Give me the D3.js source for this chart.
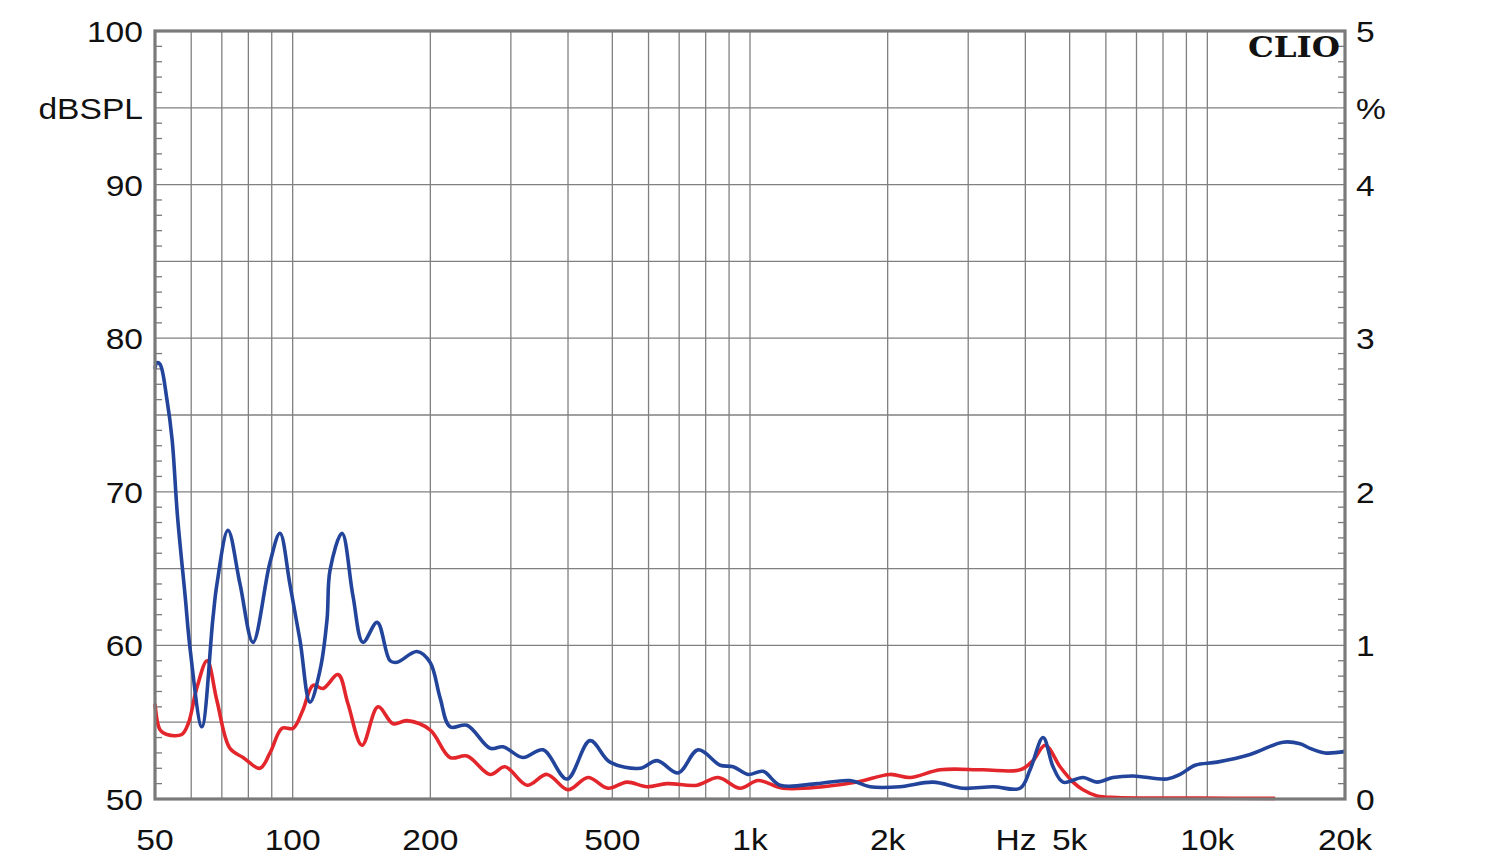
<!DOCTYPE html>
<html><head><meta charset="utf-8">
<script src="https://cdn.jsdelivr.net/npm/d3@7"></script>
<style>html,body{margin:0;padding:0;background:#fff;}svg{display:block;}</style>
</head><body>
<svg id="chart" width="1500" height="864"></svg>
<script>
// ---- data ----
const blueFreq = [50,50.5,51.3,53.1,54.5,56.0,58.2,59.7,63.3,66.9,68.3,72.2,76.7,81.9,89.2,93.8,98.6,103.8,109.1,114.8,118.9,120.7,128.2,135.5,142.5,153,163.3,169.1,187,199.7,210,220.9,240.6,270.2,288.4,318.9,352.7,398,446.9,494.2,574.9,626.4,696.5,770,860.3,918.4,990.5,1068,1163,1402,1655,1830,2128,2513,2924,3400,3896,4096,4374,4599,4836,5348,5739,6220,6880,8165,8718,9403,10500,12400,14640,15950,16770,18090,20000];
const blueDb = [78.0,78.4,78.3,76.0,73.4,68.4,63.2,59.7,54.7,61.7,64.0,67.5,64.0,60.2,65.4,67.3,64.0,60.3,56.3,58.4,61.7,64.9,67.3,63.2,60.2,61.5,59.0,58.9,59.6,58.9,56.6,54.7,54.8,53.3,53.4,52.7,53.2,51.3,53.8,52.4,52.0,52.5,51.7,53.2,52.2,52.1,51.6,51.8,50.9,51.0,51.2,50.8,50.8,51.1,50.7,50.8,50.7,51.9,54.0,52.1,51.1,51.4,51.1,51.4,51.5,51.3,51.6,52.2,52.4,52.9,53.7,53.6,53.3,53.0,53.1];
const redFreq = [50,51.3,53.1,57.2,59.1,61.8,65.0,68.3,72.9,77.9,84.8,89.2,94.8,100.2,105.3,110.8,116.6,125.7,132.1,141.8,153.7,165.8,177.8,199.7,220.9,240.6,270.2,291.3,325.4,359.9,400,442.4,489.3,538.1,595.1,658.3,766.1,851.6,951.3,1041.6,1181.4,1445,1714,2024,2239,2605,3233,3896,4159,4419,4764,5086,5348,5739,6346,9640,14070];
const redPct = [0.62,0.45,0.42,0.42,0.49,0.73,0.90,0.64,0.33,0.27,0.20,0.30,0.46,0.46,0.58,0.74,0.72,0.81,0.62,0.35,0.60,0.49,0.51,0.45,0.27,0.28,0.16,0.21,0.09,0.16,0.06,0.14,0.07,0.11,0.08,0.10,0.09,0.14,0.07,0.12,0.07,0.08,0.11,0.16,0.14,0.19,0.19,0.19,0.25,0.35,0.21,0.11,0.06,0.02,0.01,0.006,0.004];
const gridFreqs = [60,70,80,90,100,200,300,400,500,600,700,800,900,1000,2000,3000,4000,5000,6000,7000,8000,9000,10000];
const xTickVals = [50,100,200,500,1000,2000,5000,10000,20000];
const xTickText = ["50","100","200","500","1k","2k","5k","10k","20k"];
const leftTickVals = [100,90,80,70,60,50];
const rightTickVals = [5,4,3,2,1,0];

// ---- layout ----
const L = 155, R = 1345, T = 31, B = 799;
const svg = d3.select("#chart");
const x = d3.scaleLog().domain([50,20000]).range([L,R]);
const yL = d3.scaleLinear().domain([50,100]).range([B,T]);
const yR = d3.scaleLinear().domain([0,5]).range([B,T]);
const gridCol = "#808080", frameCol = "#7a7a7a";
const FONT = "'Liberation Sans', Arial, sans-serif";

// grid
const g = svg.append("g");
g.selectAll("line.v").data(gridFreqs).join("line")
  .attr("x1", d=>x(d)).attr("x2", d=>x(d)).attr("y1", T).attr("y2", B)
  .attr("stroke", gridCol).attr("stroke-width", 1.3);
g.selectAll("line.h").data(d3.range(55,100,5)).join("line")
  .attr("x1", L).attr("x2", R).attr("y1", d=>yL(d)).attr("y2", d=>yL(d))
  .attr("stroke", gridCol).attr("stroke-width", 1.3);

// minor ticks
const minor = d3.range(50,101,1).filter(d=>d%5!==0);
g.selectAll("line.ml").data(minor).join("line")
  .attr("x1", L).attr("x2", L+7).attr("y1", d=>yL(d)).attr("y2", d=>yL(d))
  .attr("stroke", frameCol).attr("stroke-width", 1.3);
g.selectAll("line.mr").data(minor).join("line")
  .attr("x1", R-7).attr("x2", R).attr("y1", d=>yL(d)).attr("y2", d=>yL(d))
  .attr("stroke", frameCol).attr("stroke-width", 1.3);

// curves
const line = d3.line().curve(d3.curveCatmullRom.alpha(0.5));
const bluePts = blueFreq.map((f,i)=>[x(f), yL(blueDb[i])]);
const redPts = redFreq.map((f,i)=>[x(f), yR(redPct[i])]);
svg.append("path").attr("d", line(redPts)).attr("fill","none")
  .attr("stroke","#e3262b").attr("stroke-width",3.6).attr("stroke-linejoin","round");
svg.append("path").attr("d", line(bluePts)).attr("fill","none")
  .attr("stroke","#22449a").attr("stroke-width",3.6).attr("stroke-linejoin","round");

// frame
svg.append("rect").attr("x",L).attr("y",T).attr("width",R-L).attr("height",B-T)
  .attr("fill","none").attr("stroke",frameCol).attr("stroke-width",3.2);

// labels
function label(px, py, txt, anchor, size){
  svg.append("text").attr("transform",`translate(${px},${py}) scale(1.12,1)`)
    .attr("text-anchor",anchor).attr("font-family",FONT).attr("font-size",size||30)
    .attr("fill","#111").text(txt);
}
leftTickVals.forEach(v=>label(143, yL(v)+11, String(v), "end"));
label(143, yL(95)+11, "dBSPL", "end");
rightTickVals.forEach(v=>label(1356, yR(v)+11, String(v), "start"));
label(1356, yL(95)+11, "%", "start");
xTickVals.forEach((v,i)=>label(x(v), 850, xTickText[i], "middle"));
label(1016, 850, "Hz", "middle");

svg.append("text").attr("x",1248).attr("y",57)
  .attr("font-family","'DejaVu Serif', serif").attr("font-weight","bold").attr("font-size",27)
  .attr("textLength",92).attr("lengthAdjust","spacingAndGlyphs").attr("fill","#111").text("CLIO");
</script>
</body></html>
